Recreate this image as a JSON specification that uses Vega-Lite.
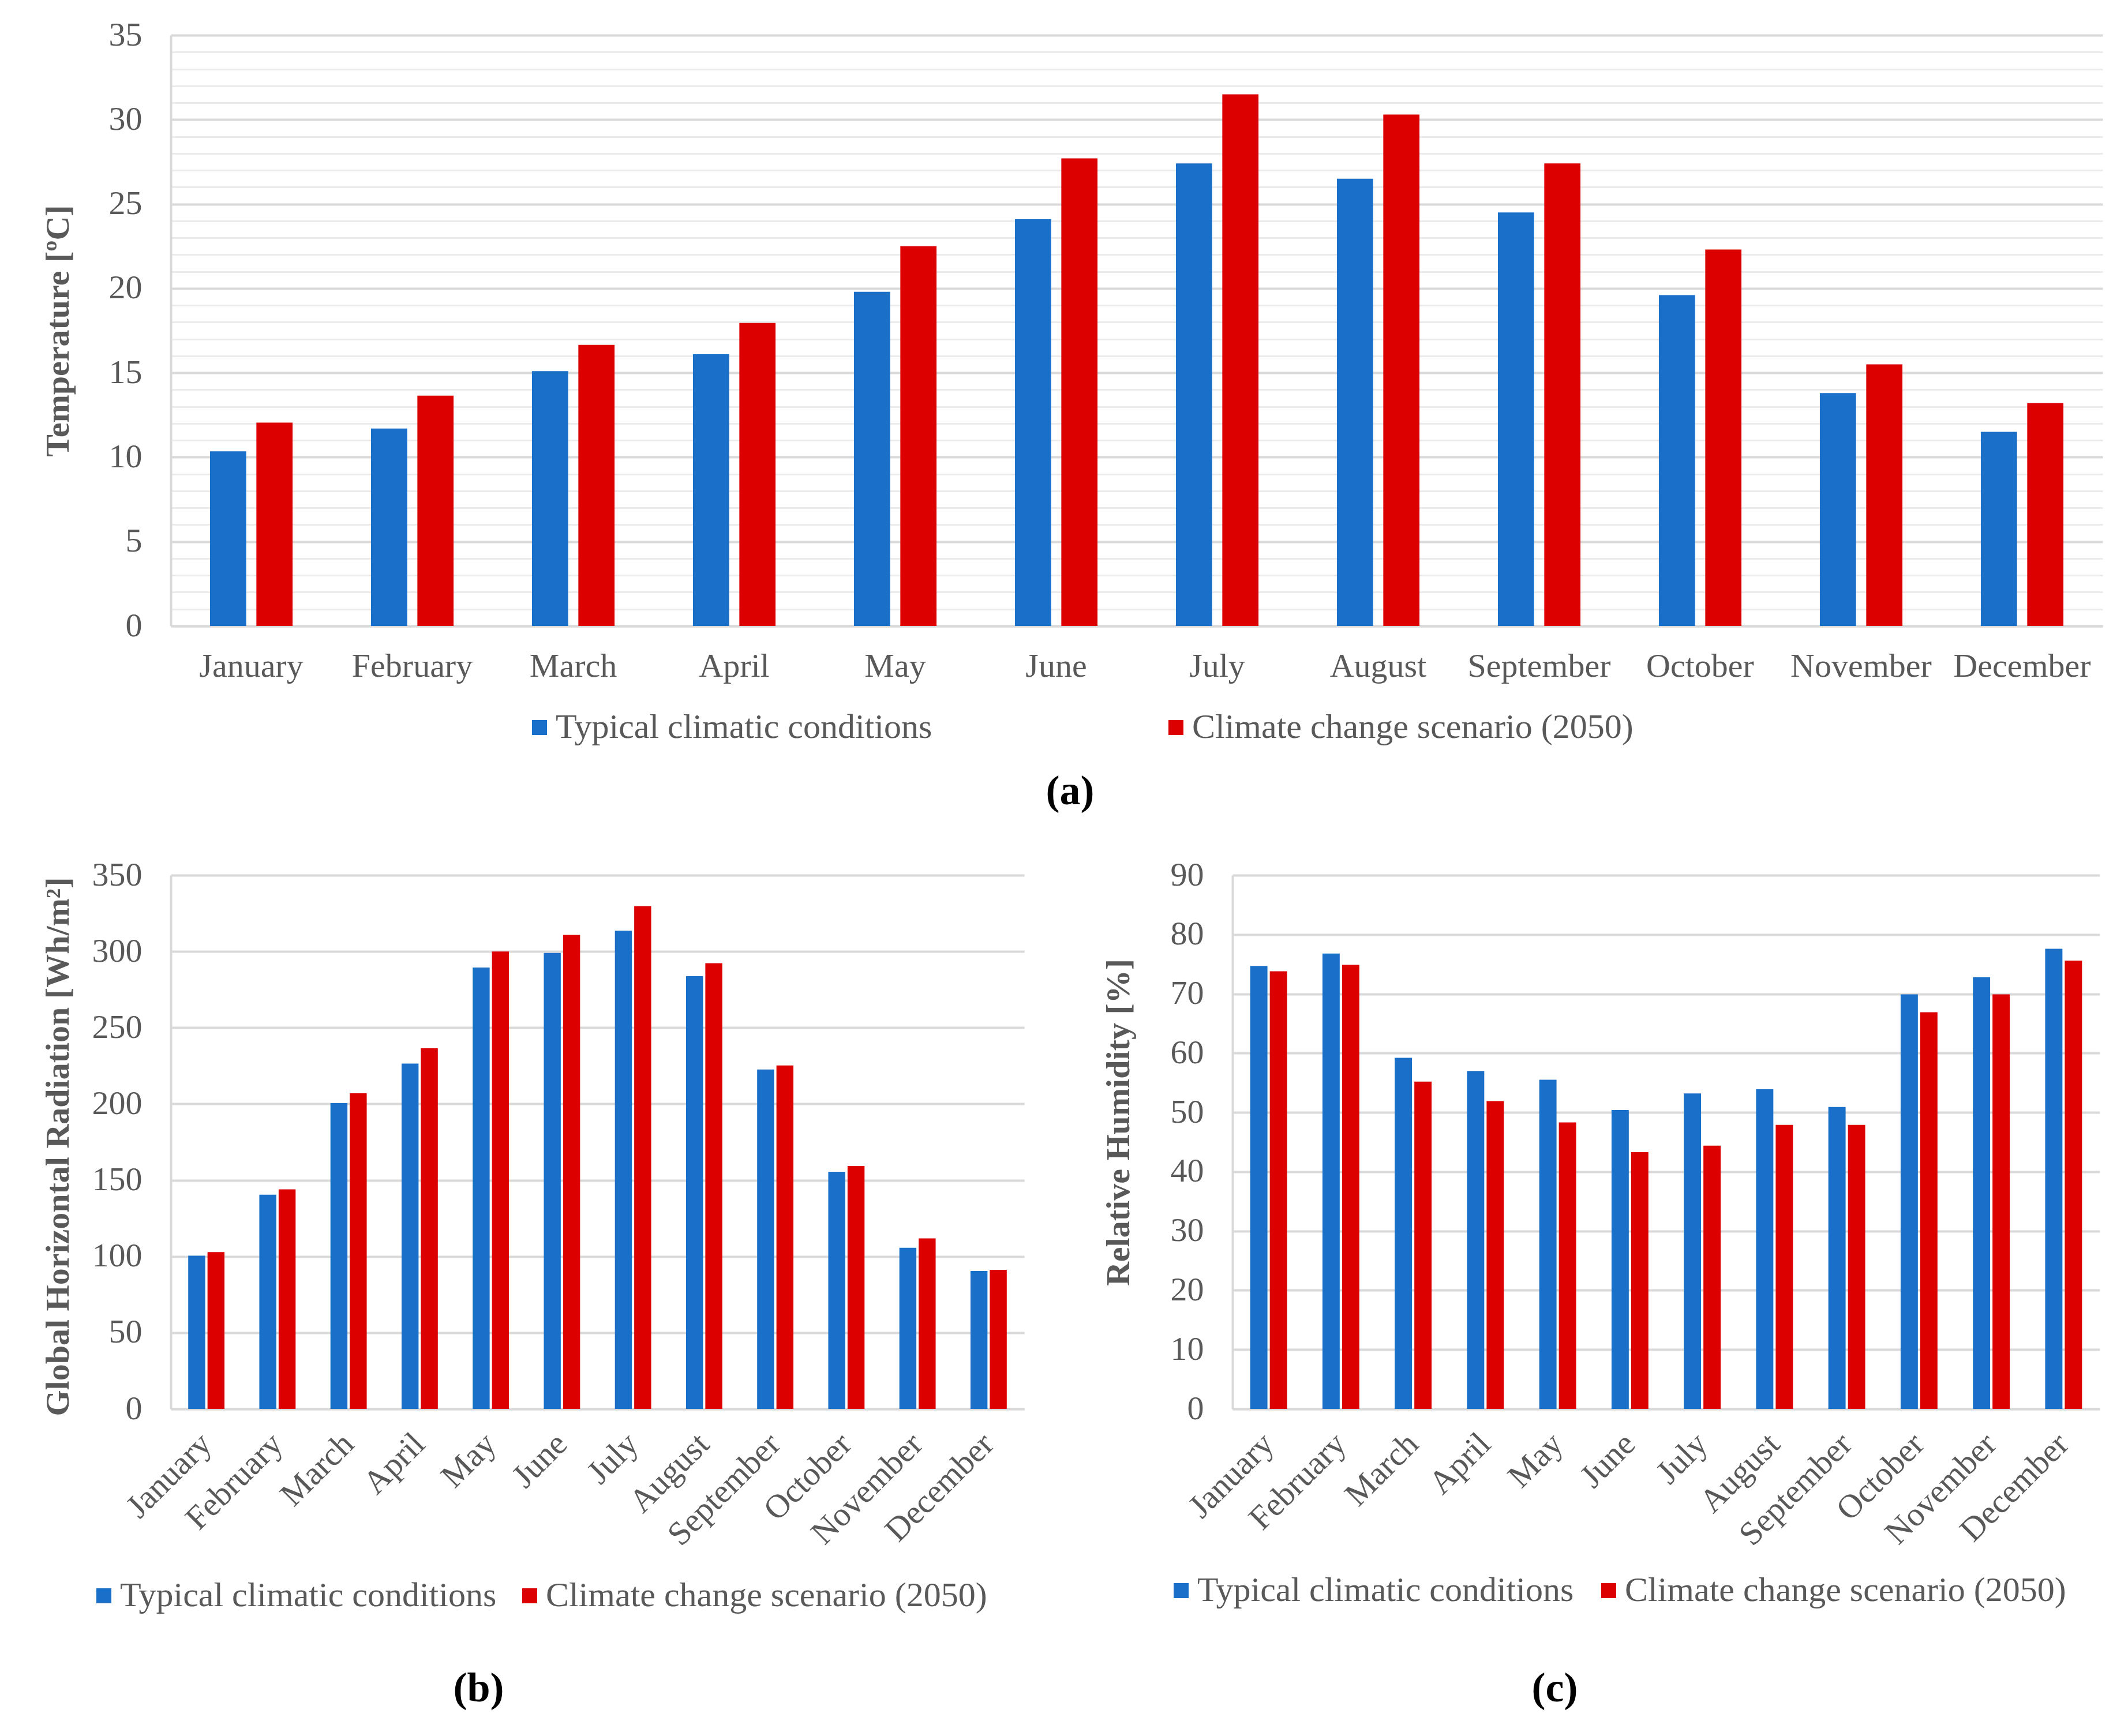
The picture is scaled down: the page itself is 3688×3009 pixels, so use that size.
{
  "$schema": "https://vega.github.io/schema/vega-lite/v6.json",
  "background": "white",
  "padding": {"left": 71, "top": 32, "right": 20, "bottom": 20},
  "config": {
    "font": "Liberation Serif",
    "view": {"stroke": null},
    "axis": {
      "labelFont": "Liberation Serif", "titleFont": "Liberation Serif",
      "labelFontSize": 58, "titleFontSize": 58, "labelColor": "#595959", "titleColor": "#595959",
      "ticks": false, "tickSize": 0, "domainColor": "#d9d9d9", "domainWidth": 4,
      "gridColor": "#d9d9d9", "gridWidth": 4, "labelLimit": 1000, "labelOverlap": false
    },
    "legend": {
      "labelFont": "Liberation Serif", "labelFontSize": 60, "labelColor": "#595959",
      "labelLimit": 2000, "symbolType": "square", "symbolSize": 676, "symbolStrokeWidth": 0,
      "symbolOpacity": 1, "labelOffset": -2, "padding": 0, "direction": "horizontal", "orient": "none"
    }
  },
  "datasets": {
    "temp": [
      {"month": "January", "Typical climatic conditions": 10.35, "Climate change scenario (2050)": 12.05},
      {"month": "February", "Typical climatic conditions": 11.7, "Climate change scenario (2050)": 13.65},
      {"month": "March", "Typical climatic conditions": 15.1, "Climate change scenario (2050)": 16.65},
      {"month": "April", "Typical climatic conditions": 16.1, "Climate change scenario (2050)": 17.95},
      {"month": "May", "Typical climatic conditions": 19.8, "Climate change scenario (2050)": 22.5},
      {"month": "June", "Typical climatic conditions": 24.1, "Climate change scenario (2050)": 27.7},
      {"month": "July", "Typical climatic conditions": 27.4, "Climate change scenario (2050)": 31.5},
      {"month": "August", "Typical climatic conditions": 26.5, "Climate change scenario (2050)": 30.3},
      {"month": "September", "Typical climatic conditions": 24.5, "Climate change scenario (2050)": 27.4},
      {"month": "October", "Typical climatic conditions": 19.6, "Climate change scenario (2050)": 22.3},
      {"month": "November", "Typical climatic conditions": 13.8, "Climate change scenario (2050)": 15.5},
      {"month": "December", "Typical climatic conditions": 11.5, "Climate change scenario (2050)": 13.2}
    ],
    "rad": [
      {"month": "January", "Typical climatic conditions": 100.5, "Climate change scenario (2050)": 102.8},
      {"month": "February", "Typical climatic conditions": 140.5, "Climate change scenario (2050)": 144},
      {"month": "March", "Typical climatic conditions": 200.5, "Climate change scenario (2050)": 207},
      {"month": "April", "Typical climatic conditions": 226.5, "Climate change scenario (2050)": 236.5},
      {"month": "May", "Typical climatic conditions": 289.5, "Climate change scenario (2050)": 300},
      {"month": "June", "Typical climatic conditions": 299, "Climate change scenario (2050)": 310.8},
      {"month": "July", "Typical climatic conditions": 313.6, "Climate change scenario (2050)": 329.8},
      {"month": "August", "Typical climatic conditions": 283.8, "Climate change scenario (2050)": 292.3},
      {"month": "September", "Typical climatic conditions": 222.6, "Climate change scenario (2050)": 225.2},
      {"month": "October", "Typical climatic conditions": 155.5, "Climate change scenario (2050)": 159.3},
      {"month": "November", "Typical climatic conditions": 105.7, "Climate change scenario (2050)": 111.8},
      {"month": "December", "Typical climatic conditions": 90.4, "Climate change scenario (2050)": 91.2}
    ],
    "hum": [
      {"month": "January", "Typical climatic conditions": 74.7, "Climate change scenario (2050)": 73.8},
      {"month": "February", "Typical climatic conditions": 76.8, "Climate change scenario (2050)": 74.9},
      {"month": "March", "Typical climatic conditions": 59.2, "Climate change scenario (2050)": 55.2},
      {"month": "April", "Typical climatic conditions": 57.0, "Climate change scenario (2050)": 51.9},
      {"month": "May", "Typical climatic conditions": 55.5, "Climate change scenario (2050)": 48.3},
      {"month": "June", "Typical climatic conditions": 50.4, "Climate change scenario (2050)": 43.3},
      {"month": "July", "Typical climatic conditions": 53.2, "Climate change scenario (2050)": 44.4},
      {"month": "August", "Typical climatic conditions": 53.9, "Climate change scenario (2050)": 47.9},
      {"month": "September", "Typical climatic conditions": 50.9, "Climate change scenario (2050)": 47.9},
      {"month": "October", "Typical climatic conditions": 69.9, "Climate change scenario (2050)": 66.9},
      {"month": "November", "Typical climatic conditions": 72.8, "Climate change scenario (2050)": 69.9},
      {"month": "December", "Typical climatic conditions": 77.6, "Climate change scenario (2050)": 75.6}
    ]
  },
  "spacing": 432,
  "bounds": "flush",
  "resolve": {"scale": {"color": "independent", "x": "independent", "y": "independent", "xOffset": "independent"}, "legend": {"color": "independent"}},
  "vconcat": [
    {
      "width": 3348, "height": 1024,
      "data": {"name": "temp"},
      "transform": [{"fold": ["Typical climatic conditions", "Climate change scenario (2050)"], "as": ["scenario", "value"]}],
      "mark": {"type": "bar"},
      "encoding": {
        "x": {"field": "month", "type": "nominal",
          "sort": ["January","February","March","April","May","June","July","August","September","October","November","December"],
          "scale": {"paddingInner": 0.487, "paddingOuter": 0.2435},
          "axis": {"title": "(a)", "titleFontSize": 72, "titleFontWeight": "bold", "titleColor": "#000000",
            "titleX": 1558, "titleY": 286, "titleAlign": "center", "titleBaseline": "middle",
            "labelAngle": 0, "labelBaseline": "middle", "labelPadding": 70, "grid": false}},
        "y": {"field": "value", "type": "quantitative",
          "scale": {"domain": [0, 35], "nice": false},
          "axis": {"title": "Temperature [ºC]", "titleFontWeight": "bold", "titleX": -195, "titleY": 512,
            "titleAlign": "center", "titleBaseline": "middle", "titleAngle": 270,
            "values": [0,1,2,3,4,5,6,7,8,9,10,11,12,13,14,15,16,17,18,19,20,21,22,23,24,25,26,27,28,29,30,31,32,33,34,35],
            "labelExpr": "datum.value % 5 === 0 ? datum.label : ''",
            "gridColor": {"condition": {"test": "datum.value % 5 === 0", "value": "#d9d9d9"}, "value": "#ebebeb"},
            "gridWidth": {"condition": {"test": "datum.value % 5 === 0", "value": 4}, "value": 3},
            "labelPadding": 50}},
        "xOffset": {"field": "scenario", "type": "nominal", "sort": ["Typical climatic conditions", "Climate change scenario (2050)"], "scale": {"paddingInner": 0.22, "paddingOuter": 0}},
        "color": {"field": "scenario", "type": "nominal",
          "scale": {"domain": ["Typical climatic conditions", "Climate change scenario (2050)"], "range": ["#1a6fc8", "#dc0000"]},
          "legend": {"title": null, "legendX": 609, "legendY": 1170, "columnPadding": 392}}
      }
    },
    {
      "spacing": 361,
      "bounds": "flush",
      "resolve": {"scale": {"color": "independent", "x": "independent", "y": "independent", "xOffset": "independent"}, "legend": {"color": "independent"}},
      "hconcat": [
        {
          "width": 1479, "height": 925,
          "data": {"name": "rad"},
          "transform": [{"fold": ["Typical climatic conditions", "Climate change scenario (2050)"], "as": ["scenario", "value"]}],
          "mark": {"type": "bar"},
          "encoding": {
            "x": {"field": "month", "type": "nominal",
              "sort": ["January","February","March","April","May","June","July","August","September","October","November","December"],
              "scale": {"paddingInner": 0.49, "paddingOuter": 0.245},
              "axis": {"title": "(b)", "titleFontSize": 72, "titleFontWeight": "bold", "titleColor": "#000000",
                "titleX": 533, "titleY": 484, "titleAlign": "center", "titleBaseline": "middle",
                "labelAngle": -45, "labelAlign": "right", "labelBaseline": "middle", "labelPadding": 52, "grid": false}},
            "y": {"field": "value", "type": "quantitative",
              "scale": {"domain": [0, 350], "nice": false},
              "axis": {"title": "Global Horizontal Radiation [Wh/m²]", "titleFontWeight": "bold", "titleX": -195, "titleY": 470,
                "titleAlign": "center", "titleBaseline": "middle", "titleAngle": 270,
                "values": [0,50,100,150,200,250,300,350], "labelPadding": 50}},
            "xOffset": {"field": "scenario", "type": "nominal", "sort": ["Typical climatic conditions", "Climate change scenario (2050)"], "scale": {"paddingInner": 0.12, "paddingOuter": 0}},
            "color": {"field": "scenario", "type": "nominal",
              "scale": {"domain": ["Typical climatic conditions", "Climate change scenario (2050)"], "range": ["#1a6fc8", "#dc0000"]},
              "legend": {"title": null, "legendX": -146, "legendY": 1219, "columnPadding": 27}}
          }
        },
        {
          "width": 1503, "height": 925,
          "data": {"name": "hum"},
          "transform": [{"fold": ["Typical climatic conditions", "Climate change scenario (2050)"], "as": ["scenario", "value"]}],
          "mark": {"type": "bar"},
          "encoding": {
            "x": {"field": "month", "type": "nominal",
              "sort": ["January","February","March","April","May","June","July","August","September","October","November","December"],
              "scale": {"paddingInner": 0.49, "paddingOuter": 0.245},
              "axis": {"title": "(c)", "titleFontSize": 72, "titleFontWeight": "bold", "titleColor": "#000000",
                "titleX": 558, "titleY": 484, "titleAlign": "center", "titleBaseline": "middle",
                "labelAngle": -45, "labelAlign": "right", "labelBaseline": "middle", "labelPadding": 52, "grid": false}},
            "y": {"field": "value", "type": "quantitative",
              "scale": {"domain": [0, 90], "nice": false},
              "axis": {"title": "Relative Humidity [%]", "titleFontWeight": "bold", "titleX": -197, "titleY": 428,
                "titleAlign": "center", "titleBaseline": "middle", "titleAngle": 270,
                "values": [0,10,20,30,40,50,60,70,80,90], "labelPadding": 50}},
            "xOffset": {"field": "scenario", "type": "nominal", "sort": ["Typical climatic conditions", "Climate change scenario (2050)"], "scale": {"paddingInner": 0.12, "paddingOuter": 0}},
            "color": {"field": "scenario", "type": "nominal",
              "scale": {"domain": ["Typical climatic conditions", "Climate change scenario (2050)"], "range": ["#1a6fc8", "#dc0000"]},
              "legend": {"title": null, "legendX": -119, "legendY": 1210, "columnPadding": 30}}
          }
        }
      ]
    }
  ]
}
